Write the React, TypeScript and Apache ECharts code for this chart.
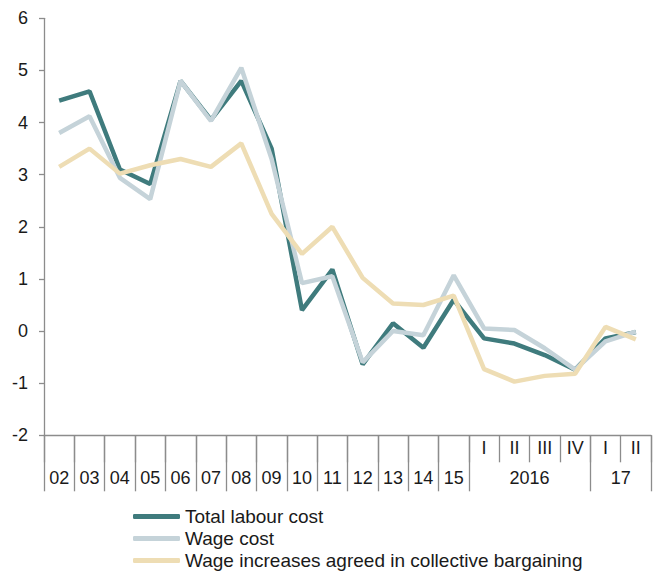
import React, { useEffect, useRef } from "react";
import * as echarts from "echarts";

const years = ["02", "03", "04", "05", "06", "07", "08", "09", "10", "11", "12", "13", "14", "15"];
const quarters = ["I", "II", "III", "IV", "I", "II"];
const quarterYears = ["2016", "17"];

const totalLabourCost = [4.42, 4.6, 3.1, 2.82, 4.8, 4.05, 4.8, 3.5, 0.4, 1.18, -0.64, 0.15, -0.32, 0.6, -0.14, -0.24, -0.46, -0.74, -0.14, -0.02];
const wageCost = [3.8, 4.12, 2.94, 2.53, 4.8, 4.03, 5.05, 3.3, 0.92, 1.05, -0.6, 0.0, -0.08, 1.07, 0.05, 0.02, -0.33, -0.74, -0.2, -0.01];
const wageIncreases = [3.15, 3.5, 3.02, 3.18, 3.3, 3.15, 3.6, 2.25, 1.48, 2.0, 1.02, 0.53, 0.5, 0.68, -0.73, -0.97, -0.86, -0.82, 0.08, -0.16];

const yTicks = { min: -2, max: 6, interval: 1 };

const seriesNames = ["Total labour cost", "Wage cost", "Wage increases agreed in collective bargaining"];
const colors = ["#3F7B7D", "#C5D3D9", "#EEDDB4"];

export default function App() {
  const ref = useRef<HTMLDivElement>(null);

  useEffect(() => {
    if (!ref.current) return;
    const chart = echarts.init(ref.current, undefined, { renderer: "svg" });

    const mainCats = [...years.map(() => ""), ...quarters];
    const n = mainCats.length;
    const halfCats: string[] = new Array(2 * n + 1).fill("");
    years.forEach((y, i) => {
      halfCats[2 * i + 1] = y;
    });
    const q16Start = years.length;
    halfCats[2 * q16Start + 4] = quarterYears[0];
    halfCats[2 * (q16Start + 4) + 2] = quarterYears[1];
    const fullTickIdx = new Set<number>();
    for (let i = 0; i <= years.length; i++) fullTickIdx.add(2 * i);
    fullTickIdx.add(2 * (q16Start + 4));
    fullTickIdx.add(2 * n);

    const axisColor = "#8C8C8C";
    const textColor = "#1A1A1A";
    const font = "Liberation Sans, Arial, sans-serif";

    chart.setOption({
      animation: false,
      backgroundColor: "#ffffff",
      color: colors,
      grid: { left: 44, top: 18.3, right: -9, bottom: 138.7, containLabel: false },
      legend: {
        orient: "vertical",
        left: 133,
        top: 507,
        padding: 0,
        itemGap: 3,
        itemWidth: 47,
        itemHeight: 5,
        icon: "roundRect",
        selectedMode: false,
        textStyle: { fontSize: 19, color: textColor, fontFamily: font, lineHeight: 19 },
        data: seriesNames,
      },
      xAxis: [
        {
          type: "category",
          data: mainCats,
          boundaryGap: true,
          position: "bottom",
          axisLine: { show: true, onZero: false, lineStyle: { color: axisColor, width: 1.3 } },
          axisTick: { show: true, length: 27, interval: 0, lineStyle: { color: axisColor, width: 1.3 } },
          axisLabel: { interval: 0, margin: 4, fontSize: 18, color: textColor, fontFamily: font },
          splitLine: { show: false },
        },
        {
          type: "category",
          data: halfCats,
          boundaryGap: false,
          position: "bottom",
          axisLine: { show: false, onZero: false },
          axisTick: {
            show: true,
            length: 56,
            interval: (idx: number) => fullTickIdx.has(idx),
            lineStyle: { color: axisColor, width: 1.3 },
          },
          axisLabel: { interval: 0, margin: 34, fontSize: 18, color: textColor, fontFamily: font },
          splitLine: { show: false },
        },
      ],
      yAxis: {
        type: "value",
        min: yTicks.min,
        max: yTicks.max,
        interval: yTicks.interval,
        axisLine: { show: true, lineStyle: { color: axisColor, width: 1.3 } },
        axisTick: { show: true, length: 5, lineStyle: { color: axisColor, width: 1.3 } },
        axisLabel: { margin: 16, align: "right", fontSize: 18, color: textColor, fontFamily: font },
        splitLine: { show: false },
      },
      series: [
        { name: seriesNames[0], type: "line", data: totalLabourCost, symbol: "none", lineStyle: { width: 4.5, color: colors[0] }, itemStyle: { color: colors[0] } },
        { name: seriesNames[1], type: "line", data: wageCost, symbol: "none", lineStyle: { width: 4.5, color: colors[1] }, itemStyle: { color: colors[1] } },
        { name: seriesNames[2], type: "line", data: wageIncreases, symbol: "none", lineStyle: { width: 4.5, color: colors[2] }, itemStyle: { color: colors[2] } },
      ],
    });

    return () => chart.dispose();
  }, []);

  return <div ref={ref} style={{ position: "fixed", left: 0, top: 0, width: 654, height: 574 }} />;
}
